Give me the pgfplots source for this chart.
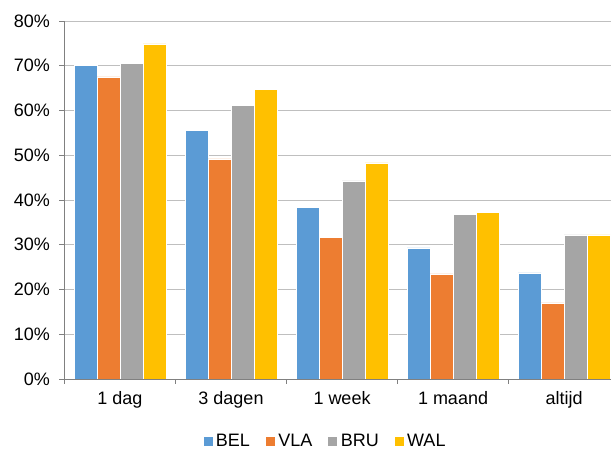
\documentclass[border=0pt]{standalone}
\usepackage{fontspec}
\setmainfont{Liberation Sans}
\usepackage{pgfplots}
\pgfplotsset{compat=1.18}

\definecolor{cBEL}{HTML}{5B9BD5}
\definecolor{cVLA}{HTML}{ED7D31}
\definecolor{cBRU}{HTML}{A5A5A5}
\definecolor{cWAL}{HTML}{FFC000}
\definecolor{gridc}{HTML}{BFBFBF}
\definecolor{axisc}{HTML}{808080}

\begin{document}
\begin{tikzpicture}
\begin{axis}[
  scale only axis,
  width=546.5pt, height=358pt,
  xmin=-0.5, xmax=4.423,
  ymin=0, ymax=80,
  ybar=0pt, bar width=23pt,
  axis x line*=bottom, axis y line*=left,
  axis line style={axisc, line width=0.8pt},
  xtick={0,1,2,3,4},
  xticklabels={1 dag,3 dagen,1 week,1 maand,altijd},
  major x tick style={draw=none},
  minor xtick={-0.5,0.5,1.5,2.5,3.5},
  minor x tick style={axisc, line width=0.8pt},
  minor tick length=5pt,
  ytick={0,10,...,80},
  yticklabel={\pgfmathprintnumber{\tick}\%},
  y tick style={axisc, line width=0.8pt},
  major tick length=5pt,
  tick align=outside,
  ymajorgrids,
  grid style={gridc, line width=0.9pt},
  /pgf/number format/assume math mode=true,
  tick label style={font=\fontsize{18}{21}\selectfont, text=black},
  xticklabel style={yshift=-4pt},
  yticklabel style={xshift=-6pt},
  legend columns=4,
  legend style={at={(0.4767,-0.1732)}, anchor=center, draw=none, fill=none,
    font=\fontsize{18}{21}\selectfont,
    /tikz/every odd column/.append style={column sep=1pt},
    /tikz/every even column/.append style={column sep=13pt}},
  legend image code/.code={\fill[#1] (0pt,-5pt) rectangle (10pt,5pt);},
]
\addplot[fill=cBEL, draw=white, line width=0.4pt] coordinates {(0,70.1) (1,55.5) (2,38.4) (3,29.3) (4,23.7)};
\addplot[fill=cVLA, draw=white, line width=0.4pt] coordinates {(0,67.5) (1,49.2) (2,31.6) (3,23.5) (4,17.0)};
\addplot[fill=cBRU, draw=white, line width=0.4pt] coordinates {(0,70.5) (1,61.2) (2,44.3) (3,36.8) (4,32.2)};
\addplot[fill=cWAL, draw=white, line width=0.4pt] coordinates {(0,74.9) (1,64.7) (2,48.3) (3,37.2) (4,32.2)};
\legend{BEL,VLA,BRU,WAL}
\end{axis}
\pgfresetboundingbox
\useasboundingbox (-64.5pt,-75pt) rectangle (546.5pt,379pt);
\end{tikzpicture}
\end{document}
